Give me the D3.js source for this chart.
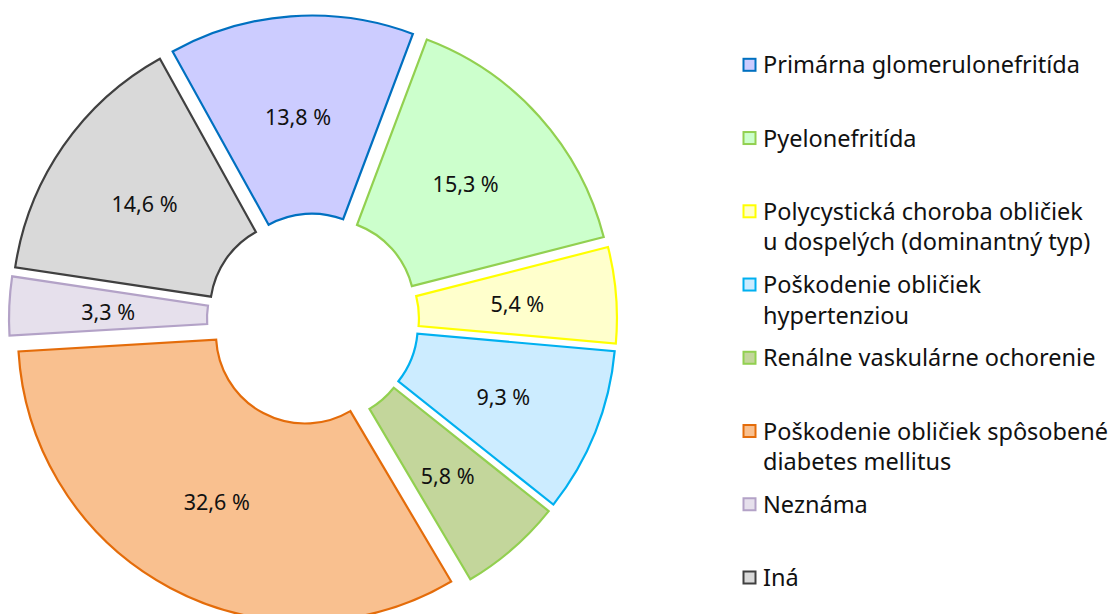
<!DOCTYPE html>
<html>
<head>
<meta charset="utf-8">
<script src="https://cdn.jsdelivr.net/npm/d3@7"></script>
<style>
  body { margin: 0; background: #fff; }
  svg { display: block; font-family: "Noto Sans", "Open Sans", sans-serif; }
</style>
</head>
<body>
<svg id="chart" width="1113" height="614"></svg>
<script>
// data
const categories = [
  "Primárna glomerulonefritída",
  "Pyelonefritída",
  "Polycystická choroba obličiek u dospelých (dominantný typ)",
  "Poškodenie obličiek hypertenziou",
  "Renálne vaskulárne ochorenie",
  "Poškodenie obličiek spôsobené diabetes mellitus",
  "Neznáma",
  "Iná"
];
const values = [13.8, 15.3, 5.4, 9.3, 5.8, 32.6, 3.3, 14.6];
// how the legend entries wrap
const legendLines = [
  ["Primárna glomerulonefritída"],
  ["Pyelonefritída"],
  ["Polycystická choroba obličiek", "u dospelých (dominantný typ)"],
  ["Poškodenie obličiek", "hypertenziou"],
  ["Renálne vaskulárne ochorenie"],
  ["Poškodenie obličiek spôsobené", "diabetes mellitus"],
  ["Neznáma"],
  ["Iná"]
];
const fills = ["#ccccff", "#ccffcc", "#ffffcc", "#ccecff", "#c3d69b", "#f9c08f", "#e6e0ec", "#d9d9d9"];
const strokes = ["#0070c0", "#92d050", "#ffff00", "#00b0f0", "#92d050", "#e46c0a", "#b3a2c7", "#404040"];

const svg = d3.select("#chart");

let cx = 313, cy = 319.5;
let explode = 17;
let start = -29 * Math.PI / 180;

let color = d3.scaleOrdinal().domain(categories).range(fills);
let line = d3.scaleOrdinal().domain(categories).range(strokes);
let fmt = d3.formatLocale({decimal: ",", thousands: " ", grouping: [3], currency: ["", ""]}).format(".1f");

let pie = d3.pie().sort(null).value(d => d.value)
  .startAngle(start).endAngle(start + 2 * Math.PI);
let arc = d3.arc().innerRadius(89).outerRadius(287);

let data = categories.map((c, i) => ({name: c, value: values[i]}));

let donut = svg.append("g").attr("transform", "translate(" + cx + "," + cy + ")");

let slices = donut.selectAll(".slice")
  .data(pie(data))
  .enter()
  .append("g")
  .attr("class", "slice")
  .attr("transform", d => {
    let mid = (d.startAngle + d.endAngle) / 2;
    return "translate(" + (Math.sin(mid) * explode) + "," + (-Math.cos(mid) * explode) + ")";
  });

slices.append("path")
  .attr("d", arc)
  .attr("fill", d => color(d.data.name))
  .attr("stroke", d => line(d.data.name))
  .attr("stroke-width", 2.2)
  .attr("stroke-linejoin", "miter");

slices.append("text")
  .attr("x", d => arc.centroid(d)[0])
  .attr("y", d => arc.centroid(d)[1] + 2)
  .attr("dy", "0.35em")
  .attr("text-anchor", "middle")
  .style("font-size", "21.5px")
  .attr("fill", "#111")
  .text(d => fmt(d.data.value) + " %");

// LEGEND
let legendY = d3.scaleLinear().domain([0, categories.length - 1]).range([73.3, 586]);

let items = svg.append("g").attr("class", "legend")
  .selectAll(".item")
  .data(categories)
  .enter()
  .append("g")
  .attr("class", "item")
  .attr("transform", (d, i) => "translate(0," + legendY(i) + ")");

items.append("rect")
  .attr("x", 743.5)
  .attr("y", -14.5)
  .attr("width", 12)
  .attr("height", 12)
  .attr("fill", d => color(d))
  .attr("stroke", d => line(d))
  .attr("stroke-width", 2);

items.append("text")
  .style("font-size", "23.5px")
  .attr("fill", "#111")
  .selectAll("tspan")
  .data((d, i) => legendLines[i])
  .enter()
  .append("tspan")
  .attr("x", 763)
  .attr("y", (d, j) => j * 30.5)
  .text(d => d);
</script>
</body>
</html>
